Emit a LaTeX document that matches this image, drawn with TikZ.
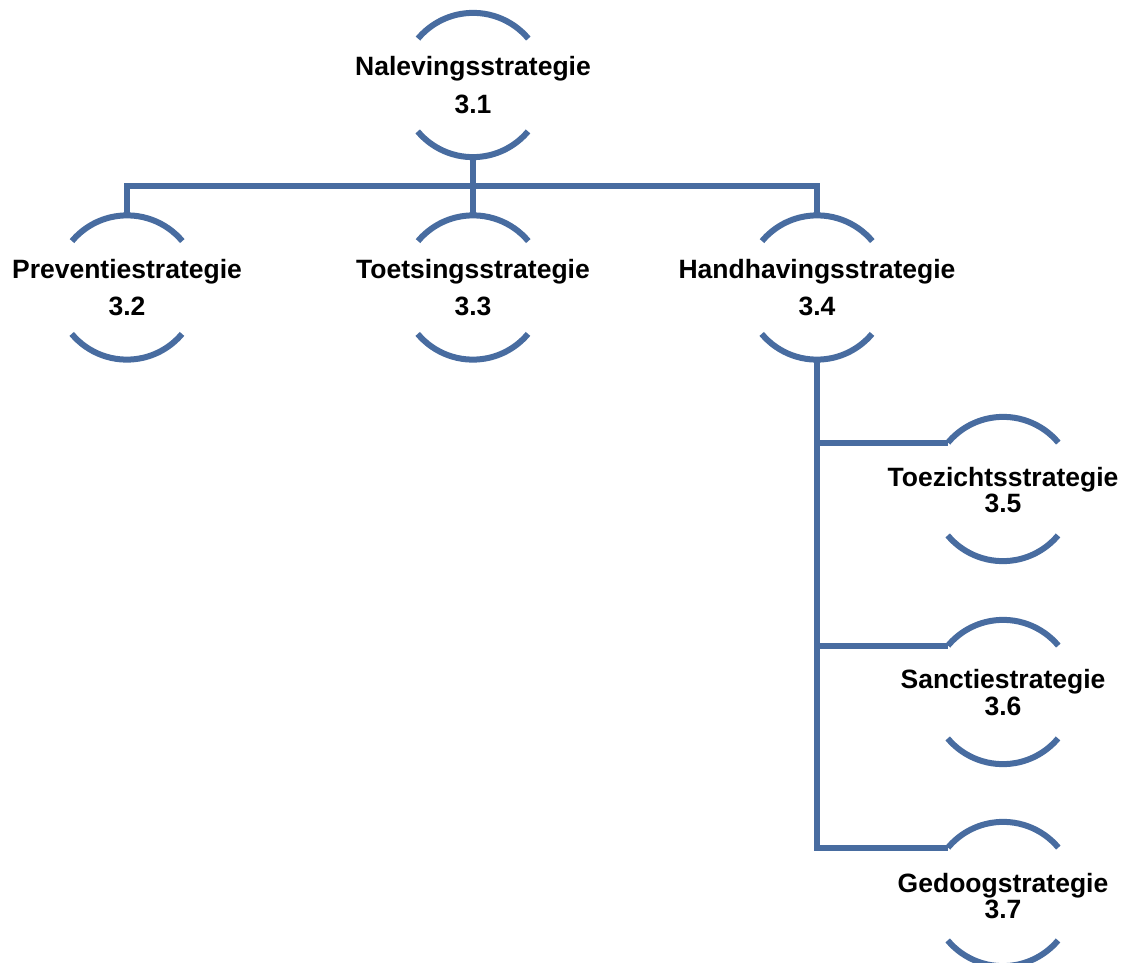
\documentclass[tikz,border=0pt]{standalone}
\usepackage{fontspec}
\setmainfont{Liberation Sans}
\definecolor{linkblue}{RGB}{72,108,160}
\begin{document}
\begin{tikzpicture}[x=1pt,y=-1pt,
  ring/.style={circle,minimum size=144pt,inner sep=0pt,draw=none},
  label/.style={align=center,inner sep=0pt,font=\bfseries\fontsize{26.5}{37.5}\selectfont},
  slabel/.style={align=center,inner sep=0pt,font=\bfseries\fontsize{26.5}{26.5}\selectfont},
  bracket/.style={draw=linkblue,line width=6pt},
  link/.style={draw=linkblue,line width=6pt}]
\useasboundingbox (0,0) rectangle (1136,963);
% ring anchors
\node[ring] (c1) at (473,85) {};
\node[ring] (c2) at (127,287.5) {};
\node[ring] (c3) at (473,287.5) {};
\node[ring] (c4) at (817,287.5) {};
\node[ring] (c5) at (1003,489) {};
\node[ring] (c6) at (1003,692) {};
\node[ring] (c7) at (1003,894) {};
% brackets
\foreach \c in {c1,c2,c3,c4,c5,c6,c7}{
  \draw[bracket] (\c.40) arc[start angle=40,end angle=140,radius=72pt];
  \draw[bracket] (\c.220) arc[start angle=220,end angle=320,radius=72pt];
}
% labels
\node[label] (t1) at (473,85) {Nalevingsstrategie\\3.1};
\node[label] (t2) at (127,287.5) {Preventiestrategie\\3.2};
\node[label] (t3) at (473,287.5) {Toetsingsstrategie\\3.3};
\node[label] (t4) at (817,287.5) {Handhavingsstrategie\\3.4};
\node[slabel] (t5) at (1003,490) {Toezichtsstrategie\\3.5};
\node[slabel] (t6) at (1003,692.5) {Sanctiestrategie\\3.6};
\node[slabel] (t7) at (1003,896) {Gedoogstrategie\\3.7};
% connectors
\coordinate (bar) at (473,186);
\draw[link] (c1.south) -- (c3.north);
\draw[link] (c2.north) -- (c2.north |- bar) -- (c4.north |- bar) -- (c4.north);
\draw[link] (c4.south) -- (c4.south |- c7.140) -- (c7.140);
\draw[link] (c4.south |- c5.140) -- (c5.140);
\draw[link] (c4.south |- c6.140) -- (c6.140);
\end{tikzpicture}
\end{document}
